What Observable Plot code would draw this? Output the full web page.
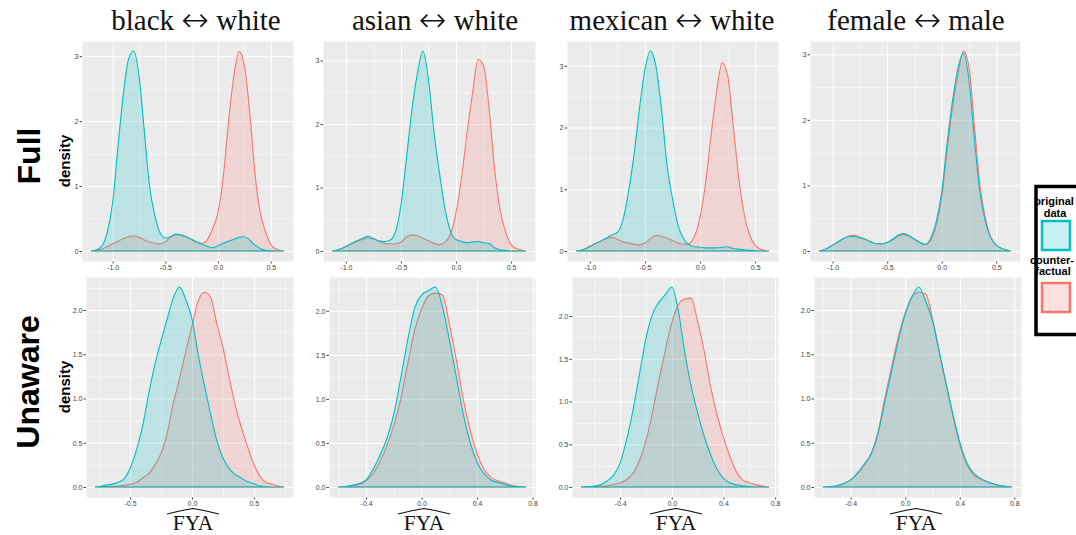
<!DOCTYPE html>
<html>
<head>
<meta charset="utf-8">
<script src="https://cdn.jsdelivr.net/npm/d3@7"></script>
<script src="https://cdn.jsdelivr.net/npm/@observablehq/plot@0.6"></script>
<style>
  body { margin: 0; background: #fff; }
  #chart { position: relative; width: 1076px; height: 535px; overflow: hidden; background: #fff; }
  #chart svg.panel { position: absolute; max-width: none; }
  #overlay { position: absolute; left: 0; top: 0; }
</style>
</head>
<body>
<div id="chart"></div>
<script>
// ---------------- DATA ----------------
const titleLeft = ["black", "asian", "mexican", "female"];
const titleRight = ["white", "white", "white", "male"];
const titleArrow = "\u2194";
const rowLabels = ["Full", "Unaware"];
const yLabel = "density";
const xLabel = "FYA";
const legendOrig = ["original", "data"];
const legendCf = ["counter-", "factual"];

const fullTicksX = [-1, -0.5, 0, 0.5];
const fullTicksY = [0, 1, 2, 3];
const unawareTicksXBlack = [-0.5, 0, 0.5];
const unawareTicksX = [-0.4, 0, 0.4, 0.8];
const unawareTicksY = [0, 0.5, 1, 1.5, 2];

// Full model, black <-> white
const xFullBlack = [-1.2,-1.15,-1.1,-1.05,-1,-0.95,-0.9,-0.85,-0.8,-0.75,-0.7,-0.65,-0.6,-0.55,-0.5,-0.45,-0.4,-0.35,-0.3,-0.25,-0.2,-0.15,-0.1,-0.05,0,0.05,0.1,0.15,0.2,0.25,0.3,0.35,0.4,0.45,0.5,0.55,0.6,0.62];
const origFullBlack = [0,0.02,0.08,0.3,0.75,1.6,2.4,2.95,3.08,2.7,1.85,1.0,0.55,0.28,0.2,0.22,0.26,0.25,0.22,0.18,0.14,0.1,0.07,0.05,0.08,0.12,0.15,0.18,0.21,0.22,0.17,0.09,0.04,0.01,0.005,0,0,0];
const cfFullBlack = [0,0.01,0.03,0.07,0.11,0.15,0.19,0.22,0.23,0.21,0.17,0.14,0.12,0.11,0.14,0.22,0.25,0.24,0.21,0.17,0.13,0.12,0.18,0.35,0.6,1.15,2.0,2.7,3.07,2.85,2.15,1.2,0.6,0.3,0.1,0.03,0.005,0];

// Full model, asian <-> white
const xFullAsian = [-1.12,-1.05,-1,-0.95,-0.9,-0.85,-0.8,-0.75,-0.7,-0.65,-0.6,-0.55,-0.5,-0.45,-0.4,-0.35,-0.3,-0.25,-0.2,-0.15,-0.1,-0.05,0,0.05,0.1,0.15,0.2,0.25,0.3,0.35,0.4,0.45,0.5,0.55,0.6,0.63];
const origFullAsian = [0,0.03,0.07,0.12,0.16,0.2,0.23,0.2,0.16,0.15,0.17,0.3,0.72,1.45,2.22,2.8,3.15,2.7,1.88,1.23,0.67,0.31,0.18,0.15,0.13,0.14,0.15,0.13,0.12,0.05,0.02,0.01,0,0,0,0];
const cfFullAsian = [0,0.03,0.07,0.11,0.15,0.18,0.2,0.19,0.15,0.12,0.11,0.11,0.14,0.22,0.25,0.24,0.2,0.16,0.12,0.1,0.14,0.26,0.6,1.15,1.85,2.48,3.02,2.92,2.26,1.3,0.66,0.3,0.1,0.04,0.01,0];

// Full model, mexican <-> white
const xFullMexican = [-1.12,-1.05,-1,-0.95,-0.9,-0.85,-0.8,-0.75,-0.7,-0.65,-0.6,-0.55,-0.5,-0.45,-0.4,-0.35,-0.3,-0.25,-0.2,-0.15,-0.1,-0.05,0,0.05,0.1,0.15,0.2,0.25,0.3,0.35,0.4,0.45,0.5,0.55,0.6,0.62];
const origFullMexican = [0,0.03,0.07,0.12,0.16,0.21,0.26,0.3,0.5,0.95,1.55,2.3,2.94,3.24,2.99,2.3,1.4,0.85,0.42,0.2,0.1,0.07,0.06,0.05,0.05,0.05,0.06,0.07,0.04,0.03,0.02,0.01,0.005,0,0,0];
const cfFullMexican = [0,0.03,0.08,0.12,0.16,0.2,0.22,0.19,0.15,0.13,0.11,0.1,0.13,0.2,0.25,0.24,0.21,0.17,0.13,0.11,0.12,0.24,0.55,1.1,1.88,2.58,3.05,2.85,2.05,1.2,0.6,0.26,0.09,0.03,0.005,0];

// Full model, female <-> male
const xFullGender = [-1.12,-1.05,-1,-0.95,-0.9,-0.85,-0.8,-0.75,-0.7,-0.65,-0.6,-0.55,-0.5,-0.45,-0.4,-0.35,-0.3,-0.25,-0.2,-0.15,-0.1,-0.05,0,0.05,0.1,0.15,0.2,0.25,0.3,0.35,0.4,0.45,0.5,0.55,0.6,0.63];
const origFullGender = [0,0.04,0.09,0.14,0.19,0.22,0.22,0.2,0.18,0.14,0.11,0.11,0.13,0.18,0.24,0.27,0.23,0.18,0.13,0.1,0.2,0.45,0.9,1.65,2.3,2.8,3.02,2.6,1.7,0.9,0.45,0.2,0.09,0.04,0.01,0];
const cfFullGender = [0,0.04,0.09,0.14,0.19,0.23,0.24,0.21,0.18,0.14,0.11,0.11,0.13,0.17,0.23,0.25,0.23,0.18,0.13,0.1,0.17,0.4,0.82,1.55,2.2,2.7,3.05,2.8,1.9,1.0,0.5,0.21,0.09,0.04,0.01,0];

// Unaware model, black <-> white
const xUnawareBlack = [-0.78,-0.75,-0.7,-0.65,-0.6,-0.55,-0.5,-0.45,-0.4,-0.35,-0.3,-0.25,-0.2,-0.15,-0.1,-0.05,0,0.05,0.1,0.15,0.2,0.25,0.3,0.35,0.4,0.45,0.5,0.55,0.6,0.65,0.7,0.74];
const origUnawareBlack = [0,0.005,0.02,0.03,0.05,0.09,0.21,0.41,0.68,1.05,1.38,1.65,1.9,2.14,2.26,2.12,1.9,1.5,1.15,0.83,0.53,0.33,0.21,0.14,0.1,0.06,0.04,0.01,0.005,0,0,0];
const cfUnawareBlack = [0,0.003,0.005,0.008,0.01,0.02,0.03,0.05,0.1,0.15,0.25,0.38,0.61,0.95,1.23,1.53,1.82,2.1,2.2,2.15,1.85,1.58,1.24,0.92,0.67,0.45,0.26,0.12,0.05,0.03,0.01,0];

// Unaware model, asian <-> white
const xUnawareAsian = [-0.6,-0.55,-0.5,-0.45,-0.4,-0.35,-0.3,-0.25,-0.2,-0.15,-0.1,-0.05,0,0.05,0.1,0.15,0.2,0.25,0.3,0.35,0.4,0.45,0.5,0.55,0.6,0.65,0.7,0.75];
const origUnawareAsian = [0,0.005,0.02,0.04,0.08,0.2,0.36,0.55,0.83,1.24,1.67,2.03,2.18,2.23,2.27,2.05,1.67,1.25,0.83,0.51,0.28,0.15,0.08,0.05,0.03,0.01,0.005,0];
const cfUnawareAsian = [0,0.005,0.015,0.03,0.07,0.15,0.29,0.47,0.7,1.0,1.4,1.78,2.02,2.17,2.2,2.18,1.85,1.45,1.0,0.65,0.38,0.2,0.11,0.07,0.045,0.02,0.005,0];

// Unaware model, mexican <-> white
const xUnawareMexican = [-0.7,-0.65,-0.6,-0.55,-0.5,-0.45,-0.4,-0.35,-0.3,-0.25,-0.2,-0.15,-0.1,-0.05,0,0.05,0.1,0.15,0.2,0.25,0.3,0.35,0.4,0.45,0.5,0.55,0.6,0.65,0.7,0.75];
const origUnawareMexican = [0,0.005,0.01,0.03,0.07,0.14,0.28,0.55,0.9,1.32,1.74,2.02,2.16,2.25,2.34,2.07,1.58,1.18,0.87,0.6,0.38,0.21,0.1,0.05,0.025,0.015,0.005,0,0,0];
const cfUnawareMexican = [0,0.003,0.005,0.01,0.015,0.03,0.05,0.085,0.16,0.31,0.54,0.87,1.25,1.6,1.92,2.13,2.2,2.21,1.94,1.6,1.18,0.85,0.58,0.36,0.18,0.08,0.05,0.025,0.01,0];

// Unaware model, female <-> male
const xUnawareGender = [-0.6,-0.55,-0.5,-0.45,-0.4,-0.35,-0.3,-0.25,-0.2,-0.15,-0.1,-0.05,0,0.05,0.1,0.15,0.2,0.25,0.3,0.35,0.4,0.45,0.5,0.55,0.6,0.65,0.7,0.75,0.78];
const origUnawareGender = [0,0.005,0.015,0.04,0.08,0.16,0.26,0.37,0.6,0.96,1.31,1.66,1.95,2.15,2.26,2.1,1.88,1.53,1.17,0.82,0.51,0.28,0.16,0.1,0.06,0.035,0.015,0.005,0];
const cfUnawareGender = [0,0.005,0.015,0.04,0.08,0.15,0.25,0.38,0.62,1.0,1.36,1.7,1.97,2.15,2.2,2.18,1.9,1.52,1.15,0.8,0.48,0.26,0.14,0.09,0.06,0.03,0.015,0.005,0];

// ---------------- STYLE / LAYOUT ----------------
const COLOR_CF = "#F8766D";
const COLOR_ORIG = "#00BFC4";
const f0 = d => d.toFixed(0);
const f1 = d => d.toFixed(1);

const panels = [
  {x: xFullBlack, orig: origFullBlack, cf: cfFullBlack, xt: fullTicksX, yt: fullTicksY, yf: f0},
  {x: xFullAsian, orig: origFullAsian, cf: cfFullAsian, xt: fullTicksX, yt: fullTicksY, yf: f0},
  {x: xFullMexican, orig: origFullMexican, cf: cfFullMexican, xt: fullTicksX, yt: fullTicksY, yf: f0},
  {x: xFullGender, orig: origFullGender, cf: cfFullGender, xt: fullTicksX, yt: fullTicksY, yf: f0},
  {x: xUnawareBlack, orig: origUnawareBlack, cf: cfUnawareBlack, xt: unawareTicksXBlack, yt: unawareTicksY, yf: f1},
  {x: xUnawareAsian, orig: origUnawareAsian, cf: cfUnawareAsian, xt: unawareTicksX, yt: unawareTicksY, yf: f1},
  {x: xUnawareMexican, orig: origUnawareMexican, cf: cfUnawareMexican, xt: unawareTicksX, yt: unawareTicksY, yf: f1},
  {x: xUnawareGender, orig: origUnawareGender, cf: cfUnawareGender, xt: unawareTicksX, yt: unawareTicksY, yf: f1}
];
// panel (grey area) boxes: left, top, right, bottom
const boxes = [
  [82, 41, 293, 261], [323, 41, 535, 261], [567, 41, 778, 261], [810, 41, 1020, 261],
  [86, 277, 293, 497], [329, 277, 535, 497], [572, 277, 778, 497], [814, 277, 1021, 497]
];
const titleX = [196, 435, 672, 916];
const fyaX = [193, 424, 676, 916];

const chart = document.getElementById("chart");

function minorTicks(ticks, dom) {
  const s = ticks[1] - ticks[0];
  return [ticks[0] - s / 2, ...ticks.map(t => t + s / 2)].filter(v => v > dom[0] && v < dom[1]);
}

panels.forEach((p, i) => {
  const [l, t, r, b] = boxes[i];
  const ml = 24, mr = 1, mt = 1, mb = 14;
  const xmin = d3.min(p.x), xmax = d3.max(p.x), xr = xmax - xmin;
  const ymax = d3.max([...p.orig, ...p.cf]);
  const xd = [xmin - 0.05 * xr, xmax + 0.05 * xr];
  const yd = [-0.05 * ymax, 1.05 * ymax];
  const cfData = p.x.map((x, k) => ({x, d: p.cf[k]}));
  const origData = p.x.map((x, k) => ({x, d: p.orig[k]}));
  const svg = Plot.plot({
    width: (r - l) + ml + mr,
    height: (b - t) + mt + mb,
    marginLeft: ml, marginRight: mr, marginTop: mt, marginBottom: mb,
    style: {background: "transparent", fontFamily: "'Liberation Sans', Arial, sans-serif", fontSize: "7px", color: "#444", overflow: "visible"},
    x: {domain: xd, ticks: p.xt, tickFormat: f1, tickSize: 2.5, tickPadding: 1.5, label: null},
    y: {domain: yd, ticks: p.yt, tickFormat: p.yf, tickSize: 2.5, tickPadding: 1.5, label: null},
    marks: [
      Plot.frame({fill: "#EBEBEB", stroke: "none"}),
      Plot.ruleX(minorTicks(p.xt, xd), {stroke: "white", strokeWidth: 0.5}),
      Plot.ruleY(minorTicks(p.yt, yd), {stroke: "white", strokeWidth: 0.5}),
      Plot.ruleX(p.xt, {stroke: "white", strokeWidth: 1}),
      Plot.ruleY(p.yt, {stroke: "white", strokeWidth: 1}),
      Plot.areaY(cfData, {x: "x", y: "d", fill: COLOR_CF, fillOpacity: 0.2, stroke: COLOR_CF, strokeWidth: 1.1, curve: "monotone-x"}),
      Plot.areaY(origData, {x: "x", y: "d", fill: COLOR_ORIG, fillOpacity: 0.2, stroke: COLOR_ORIG, strokeWidth: 1.1, curve: "monotone-x"})
    ]
  });
  svg.classList.add("panel");
  svg.style.left = (l - ml) + "px";
  svg.style.top = (t - mt) + "px";
  chart.appendChild(svg);
});

// ---------------- OVERLAY TEXT / LEGEND ----------------
const ov = d3.select(chart).append("svg").attr("id", "overlay").attr("width", 1076).attr("height", 535);
const serif = "'Liberation Serif', 'Times New Roman', 'DejaVu Serif', serif";
const sans = "'Liberation Sans', Arial, Helvetica, sans-serif";

titleLeft.forEach((tl, i) => {
  const tx = ov.append("text").attr("x", titleX[i]).attr("y", 30).attr("text-anchor", "middle")
    .attr("font-family", serif).attr("font-size", 29).attr("fill", "#111");
  tx.append("tspan").text(tl + " ");
  tx.append("tspan").attr("font-family", "'DejaVu Sans', sans-serif").attr("font-weight", 200)
    .attr("font-size", 33).attr("dy", 1).text(titleArrow);
  tx.append("tspan").attr("dy", -1).text(" " + titleRight[i]);
});

[[40, 156], [39, 382]].forEach(([x, y], i) => {
  ov.append("text").attr("transform", `translate(${x},${y}) rotate(-90)`).attr("text-anchor", "middle")
    .attr("font-family", sans).attr("font-weight", "bold").attr("font-size", 32).attr("fill", "#000").text(rowLabels[i]);
});
[[70, 161], [70, 387]].forEach(([x, y]) => {
  ov.append("text").attr("transform", `translate(${x},${y}) rotate(-90)`).attr("text-anchor", "middle")
    .attr("font-family", sans).attr("font-weight", "bold").attr("font-size", 15).attr("fill", "#000").text(yLabel);
});

fyaX.forEach(cx => {
  ov.append("text").attr("x", cx).attr("y", 530).attr("text-anchor", "middle")
    .attr("font-family", serif).attr("font-size", 21.5).attr("fill", "#111").text(xLabel);
  ov.append("path").attr("d", `M${cx - 26},514 Q${cx - 13},510.5 ${cx},508.5 Q${cx + 13},510.5 ${cx + 26},514`)
    .attr("fill", "none").attr("stroke", "#111").attr("stroke-width", 1.1);
});

// legend
const lg = ov.append("g");
lg.append("rect").attr("x", 1036).attr("y", 186.5).attr("width", 70).attr("height", 148)
  .attr("fill", "white").attr("stroke", "#000").attr("stroke-width", 3.5);
const lt = (txt, x, y) => lg.append("text").attr("x", x).attr("y", y).attr("text-anchor", "middle")
  .attr("font-family", sans).attr("font-weight", "bold").attr("font-size", 11).attr("fill", "#000").text(txt);
lt(legendOrig[0], 1054, 205);
lt(legendOrig[1], 1055, 217);
lg.append("rect").attr("x", 1042).attr("y", 221).attr("width", 28).attr("height", 29)
  .attr("fill", COLOR_ORIG).attr("fill-opacity", 0.22).attr("stroke", COLOR_ORIG).attr("stroke-width", 2.5);
lt(legendCf[0], 1052, 264);
lt(legendCf[1], 1053, 275);
lg.append("rect").attr("x", 1042).attr("y", 283).attr("width", 28).attr("height", 29)
  .attr("fill", COLOR_CF).attr("fill-opacity", 0.22).attr("stroke", COLOR_CF).attr("stroke-width", 2.5);
</script>
</body>
</html>
